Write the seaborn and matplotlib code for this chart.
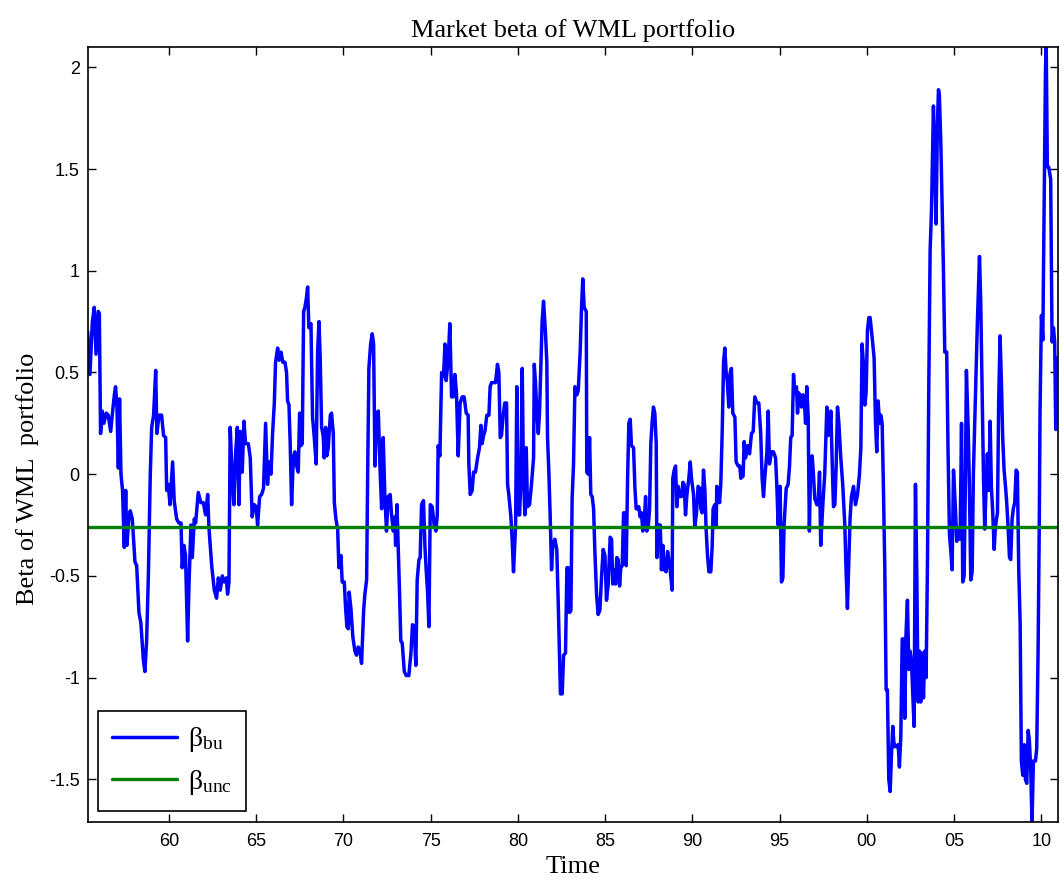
"""Market beta of the WML portfolio: rolling beta against the unconditional beta."""
import numpy as np, pandas as pd
import matplotlib
matplotlib.use("Agg")
import matplotlib.pyplot as plt
import seaborn as sns

# time in decimal years, beta, one segment per stretch of years
t_55 = [1955.34,1955.47,1955.61,1955.72,1955.82,1955.95,1956.01,1956.08,1956.18,1956.27,1956.41,1956.52,1956.66,1956.75,1956.87,1956.94,
        1957.02,1957.10,1957.17,1957.25,1957.34,1957.44,1957.52,1957.59,1957.69,1957.78,1957.90,1958.05,1958.15,1958.28,1958.39,1958.53,
        1958.62,1958.72,1958.82,1958.93,1959.01,1959.12,1959.24,1959.31,1959.43,1959.58,1959.69,1959.81,1959.87,1959.96,1960.06,1960.21,
        1960.30,1960.44,1960.57,1960.69,1960.76,1960.86,1960.95,1961.07,1961.15,1961.26,1961.34,1961.45]
b_55 = [0.70,0.49,0.75,0.82,0.59,0.80,0.79,0.20,0.31,0.25,0.30,0.29,0.21,0.29,0.39,0.43,
        0.33,0.03,0.37,0.00,-0.08,-0.36,-0.08,-0.35,-0.23,-0.18,-0.22,-0.43,-0.45,-0.68,-0.73,-0.91,
        -0.97,-0.82,-0.50,0.00,0.23,0.29,0.51,0.20,0.29,0.29,0.19,0.18,-0.08,-0.05,-0.15,0.06,
        -0.13,-0.22,-0.24,-0.24,-0.46,-0.35,-0.40,-0.82,-0.54,-0.25,-0.41,-0.22]
t_61 = [1961.53,1961.68,1961.83,1961.97,1962.10,1962.22,1962.29,1962.45,1962.60,1962.73,1962.83,1962.94,1963.06,1963.17,1963.29,1963.36,
        1963.44,1963.51,1963.63,1963.72,1963.82,1963.92,1964.01,1964.09,1964.20,1964.30,1964.39,1964.55,1964.66,1964.77,1964.89,1965.00,
        1965.08,1965.20,1965.31,1965.42,1965.54,1965.65,1965.75,1965.85,1965.94,1966.04,1966.11,1966.23,1966.32,1966.42,1966.53,1966.65]
b_61 = [-0.24,-0.09,-0.14,-0.14,-0.20,-0.10,-0.26,-0.45,-0.57,-0.61,-0.51,-0.57,-0.50,-0.53,-0.51,-0.59,
        -0.53,0.23,-0.02,-0.15,0.10,0.23,-0.15,0.21,0.01,0.26,0.15,0.15,0.08,-0.21,-0.15,-0.16,
        -0.25,-0.11,-0.10,-0.07,0.25,-0.05,0.06,0.00,0.20,0.35,0.55,0.62,0.56,0.60,0.55,0.55]
t_66 = [1966.74,1966.80,1966.88,1966.95,1967.03,1967.13,1967.22,1967.32,1967.41,1967.49,1967.56,1967.64,1967.72,1967.79,1967.87,1967.95,
        1968.02,1968.14,1968.23,1968.33,1968.44,1968.52,1968.60,1968.67,1968.75,1968.84,1968.90,1968.98,1969.05,1969.13,1969.25,1969.32,
        1969.42,1969.48,1969.57,1969.67,1969.74,1969.86,1969.93,1970.05,1970.12,1970.20,1970.28,1970.33,1970.43,1970.54,1970.66,1970.75,
        1970.85,1970.95,1971.04,1971.16,1971.23,1971.33,1971.39,1971.46,1971.56,1971.65,1971.73,1971.81,1971.90,1972.00,1972.09,1972.19,
        1972.28,1972.38,1972.47,1972.57,1972.68,1972.76,1972.86]
b_66 = [0.50,0.36,0.34,0.15,-0.15,0.08,0.11,0.04,0.01,0.30,0.14,0.15,0.80,0.82,0.86,0.92,
        0.72,0.74,0.28,0.18,0.05,0.60,0.75,0.57,0.23,0.19,0.08,0.23,0.09,0.13,0.29,0.30,
        0.20,-0.14,-0.22,-0.27,-0.46,-0.40,-0.53,-0.53,-0.65,-0.75,-0.76,-0.58,-0.66,-0.80,-0.87,-0.89,
        -0.85,-0.87,-0.93,-0.67,-0.59,-0.52,0.00,0.52,0.64,0.69,0.64,0.04,0.30,0.31,0.05,-0.17,
        0.18,-0.12,-0.28,-0.11,-0.10,-0.20,-0.28]
t_72 = [1972.95,1972.99,1973.07,1973.14,1973.22,1973.29,1973.37,1973.49,1973.60,1973.75,1973.87,1973.96,1974.06,1974.15,1974.23,1974.33,
        1974.40,1974.48,1974.59,1974.67,1974.75,1974.82,1974.90,1974.98,1975.09,1975.20,1975.30,1975.38,1975.43,1975.53,1975.63,1975.74,
        1975.82,1975.89,1976.01,1976.10,1976.20,1976.29,1976.39,1976.48,1976.58,1976.69,1976.81,1976.92,1977.04,1977.15,1977.19,1977.27,
        1977.38,1977.46,1977.57,1977.69,1977.80,1977.88,1977.95,1978.03,1978.11,1978.22,1978.34,1978.41,1978.49,1978.60]
b_72 = [-0.21,-0.35,-0.15,-0.35,-0.59,-0.82,-0.83,-0.97,-0.99,-0.99,-0.88,-0.74,-0.75,-0.94,-0.52,-0.42,
        -0.41,-0.15,-0.13,-0.35,-0.48,-0.57,-0.75,-0.15,-0.16,-0.25,-0.28,-0.20,0.14,0.09,0.50,0.48,
        0.64,0.46,0.57,0.74,0.38,0.38,0.49,0.40,0.09,0.35,0.38,0.38,0.30,0.29,0.05,-0.10,
        -0.08,0.01,0.01,0.08,0.13,0.24,0.15,0.19,0.21,0.29,0.29,0.43,0.45,0.45]
t_78 = [1978.72,1978.83,1978.91,1978.99,1979.06,1979.16,1979.25,1979.35,1979.41,1979.48,1979.60,1979.67,1979.75,1979.87,1979.94,1980.02,
        1980.10,1980.17,1980.25,1980.32,1980.40,1980.48,1980.55,1980.67,1980.78,1980.90,1980.94,1981.01,1981.09,1981.17,1981.24,1981.32,
        1981.39,1981.47,1981.58,1981.66,1981.70,1981.78,1981.85,1981.93,1982.00,1982.12,1982.23,1982.31,1982.39,1982.44,1982.54,1982.62,
        1982.73,1982.81,1982.88,1982.96,1983.04,1983.11,1983.19,1983.27,1983.38,1983.46,1983.57,1983.65,1983.72,1983.80,1983.92,1983.95,
        1984.03,1984.11,1984.18,1984.26,1984.34,1984.41]
b_78 = [0.45,0.54,0.50,0.18,0.19,0.29,0.35,0.35,-0.05,-0.10,-0.21,-0.32,-0.48,-0.25,0.43,-0.20,
        -0.20,-0.02,0.52,0.00,-0.20,0.13,-0.16,-0.15,-0.05,0.08,0.54,0.45,0.30,0.20,0.30,0.55,
        0.75,0.85,0.70,0.55,0.18,0.00,-0.20,-0.47,-0.35,-0.32,-0.37,-0.62,-0.89,-1.08,-1.08,-0.89,
        -0.88,-0.46,-0.46,-0.68,-0.67,-0.12,0.05,0.43,0.39,0.41,0.60,0.82,0.96,0.82,0.80,0.01,
        0.00,0.18,-0.10,-0.11,-0.17,-0.37]
t_84 = [1984.51,1984.60,1984.70,1984.80,1984.89,1984.99,1985.08,1985.18,1985.29,1985.37,1985.44,1985.52,1985.60,1985.67,1985.75,1985.83,
        1985.90,1985.98,1986.06,1986.13,1986.21,1986.29,1986.36,1986.44,1986.51,1986.63,1986.71,1986.78,1986.86,1986.93,1987.01,1987.09,
        1987.16,1987.24,1987.32,1987.39,1987.47,1987.55,1987.62,1987.70,1987.77,1987.85,1987.93,1987.97,1988.04,1988.16,1988.23,1988.31,
        1988.39,1988.50,1988.58,1988.65,1988.73,1988.84,1988.88,1988.96,1989.04,1989.11,1989.19,1989.26,1989.38,1989.46,1989.53,1989.61,
        1989.69,1989.80,1989.88,1989.95,1990.07,1990.14]
b_84 = [-0.59,-0.69,-0.67,-0.50,-0.37,-0.40,-0.62,-0.54,-0.31,-0.32,-0.54,-0.47,-0.54,-0.41,-0.42,-0.55,
        -0.46,-0.45,-0.19,-0.19,-0.45,-0.02,0.25,0.27,0.14,0.13,-0.07,-0.17,-0.17,-0.16,-0.21,-0.19,
        -0.28,-0.25,-0.11,-0.28,-0.26,-0.17,0.15,0.26,0.33,0.30,0.15,-0.41,-0.25,-0.25,-0.47,-0.35,
        -0.47,-0.48,-0.38,-0.42,-0.47,-0.57,-0.02,0.02,0.04,-0.16,-0.06,-0.11,-0.11,-0.04,-0.05,-0.20,
        -0.10,-0.02,0.06,-0.02,-0.10,-0.26]
t_90 = [1990.24,1990.33,1990.43,1990.49,1990.56,1990.64,1990.72,1990.79,1990.87,1990.95,1991.06,1991.14,1991.19,1991.29,1991.37,1991.40,
        1991.48,1991.56,1991.63,1991.71,1991.79,1991.86,1991.94,1992.01,1992.09,1992.17,1992.24,1992.32,1992.44,1992.51,1992.63,1992.72,
        1992.78,1992.91,1992.97,1993.05,1993.16,1993.28,1993.39,1993.49,1993.58,1993.70,1993.81,1993.92,1994.00,1994.08,1994.15,1994.27,
        1994.35,1994.42,1994.54,1994.65,1994.77,1994.84,1994.92,1995.03,1995.11,1995.19,1995.26,1995.38,1995.49,1995.57,1995.64,1995.72,
        1995.80,1995.87]
b_90 = [-0.19,-0.06,-0.07,-0.17,-0.19,0.02,-0.08,-0.27,-0.40,-0.48,-0.48,-0.35,-0.17,-0.15,-0.26,-0.06,
        -0.07,-0.14,-0.05,0.20,0.55,0.62,0.50,0.45,0.33,0.50,0.52,0.30,0.28,0.06,0.04,0.04,
        -0.02,-0.01,0.16,0.08,0.14,0.10,0.20,0.21,0.38,0.35,0.35,0.20,-0.02,-0.11,-0.02,0.10,
        0.31,0.05,0.11,0.11,0.08,-0.05,-0.25,-0.06,-0.53,-0.51,-0.25,-0.07,-0.05,0.04,0.18,0.19,
        0.49,0.40]
t_96 = [1995.97,1996.03,1996.10,1996.18,1996.26,1996.33,1996.41,1996.49,1996.56,1996.64,1996.71,1996.79,1996.87,1996.94,1997.02,1997.14,
        1997.21,1997.29,1997.36,1997.48,1997.59,1997.71,1997.78,1997.86,1997.94,1998.01,1998.09,1998.17,1998.24,1998.32,1998.40,1998.51,
        1998.62,1998.74,1998.81,1998.89,1998.97,1999.04,1999.12,1999.24,1999.35,1999.47,1999.58,1999.66,1999.73,1999.81,1999.89,1999.96,
        2000.04,2000.12,2000.19,2000.31,2000.42,2000.50,2000.57,2000.65,2000.73,2000.80,2000.88,2000.95,2001.03,2001.11,2001.18,2001.26,
        2001.34,2001.41,2001.49,2001.57]
b_96 = [0.43,0.30,0.40,0.36,0.33,0.39,0.38,0.25,0.43,0.28,-0.28,0.08,0.09,0.00,-0.12,-0.15,
        -0.15,0.01,-0.35,-0.15,0.00,0.33,0.19,0.20,0.31,0.08,-0.16,-0.15,0.03,0.33,0.25,0.08,
        -0.05,-0.25,-0.47,-0.66,-0.42,-0.22,-0.11,-0.06,-0.15,-0.10,0.00,0.13,0.64,0.54,0.34,0.40,
        0.71,0.77,0.77,0.67,0.57,0.25,0.11,0.36,0.25,0.29,0.25,-0.05,-0.45,-1.06,-1.06,-1.50,
        -1.56,-1.39,-1.24,-1.34]
t_01 = [2001.61,2001.70,2001.80,2001.87,2001.95,2002.03,2002.10,2002.18,2002.25,2002.33,2002.41,2002.48,2002.56,2002.64,2002.71,2002.79,
        2002.87,2002.94,2003.02,2003.09,2003.17,2003.25,2003.32,2003.40,2003.48,2003.55,2003.63,2003.71,2003.82,2003.90,2003.97,2004.05,
        2004.11,2004.16,2004.24,2004.32,2004.39,2004.47,2004.58,2004.66,2004.74,2004.81,2004.89,2004.97,2005.08,2005.16,2005.23,2005.35,
        2005.43,2005.50,2005.58,2005.65,2005.71,2005.81,2005.88,2005.96,2006.04,2006.11,2006.23,2006.34,2006.46,2006.53,2006.61,2006.69,
        2006.76]
b_01 = [-1.33,-1.34,-1.33,-1.44,-1.29,-0.81,-0.81,-1.20,-0.78,-0.62,-0.96,-0.87,-0.92,-1.09,-1.24,-0.05,
        -0.52,-1.12,-0.87,-1.12,-0.88,-1.10,-0.87,-1.00,-0.42,0.40,1.10,1.30,1.81,1.52,1.23,1.73,
        1.89,1.86,1.64,1.32,1.02,0.60,0.60,0.10,-0.30,-0.37,-0.47,0.02,-0.17,-0.33,-0.28,-0.32,
        0.25,-0.53,-0.50,-0.05,0.51,0.23,-0.05,-0.52,-0.48,0.00,0.40,0.75,1.07,0.85,0.40,-0.02,
        -0.27]
t_06 = [2006.84,2006.91,2006.99,2007.07,2007.14,2007.22,2007.30,2007.37,2007.49,2007.56,2007.64,2007.72,2007.79,2007.87,2007.95,2008.02,
        2008.10,2008.18,2008.25,2008.33,2008.40,2008.48,2008.56,2008.63,2008.71,2008.79,2008.86,2008.94,2009.02,2009.09,2009.17,2009.25,
        2009.32,2009.40,2009.47,2009.55,2009.67,2009.74,2009.82,2009.89,2009.93,2010.01,2010.09,2010.16,2010.24,2010.28,2010.35,2010.43,
        2010.54,2010.62,2010.70,2010.77,2010.83,2010.88,2010.95,2011.00]
b_06 = [-0.06,0.10,-0.08,0.26,-0.06,-0.19,-0.37,-0.26,-0.19,0.36,0.68,0.44,0.18,0.02,-0.06,-0.14,
        -0.26,-0.41,-0.42,-0.22,-0.17,-0.14,0.02,0.01,-0.47,-0.73,-1.41,-1.48,-1.33,-1.50,-1.52,-1.26,
        -1.31,-1.46,-1.72,-1.41,-1.41,-1.35,-0.86,-0.21,0.31,0.78,0.66,1.27,1.97,2.15,1.51,1.51,
        1.45,0.65,0.72,0.65,0.22,0.57,0.54,0.44]

BETA_UNC = -0.26
XTICKS = [1960, 1965, 1970, 1975, 1980, 1985, 1990, 1995, 2000, 2005, 2010]
XTICKLABELS = ["60", "65", "70", "75", "80", "85", "90", "95", "00", "05", "10"]
YTICKS = [-1.5, -1, -0.5, 0, 0.5, 1, 1.5, 2]
YTICKLABELS = ["-1.5", "-1", "-0.5", "0", "0.5", "1", "1.5", "2"]

segs = [(t_55, b_55), (t_61, b_61), (t_66, b_66), (t_72, b_72), (t_78, b_78), (t_84, b_84),
        (t_90, b_90), (t_96, b_96), (t_01, b_01), (t_06, b_06)]
for t, b in segs:
    assert len(t) == len(b), (t[0], len(t), len(b))
df = pd.DataFrame({"time": np.concatenate([t for t, _ in segs]),
                   "beta": np.concatenate([b for _, b in segs])})

sns.set_theme(style="ticks")
plt.rcParams.update({"font.family": ["Liberation Sans", "DejaVu Sans"], "axes.unicode_minus": False,
                     "mathtext.fontset": "custom", "mathtext.rm": "Liberation Serif",
                     "mathtext.it": "Liberation Serif:italic", "axes.linewidth": 1.2,
                     "text.color": "black", "axes.labelcolor": "black",
                     "xtick.color": "black", "ytick.color": "black"})
serif = ["Liberation Serif", "DejaVu Serif"]

W, H = 1061, 883
fig = plt.figure(figsize=(W / 100, H / 100), dpi=100)
ax = fig.add_axes([88 / W, 1 - 822 / H, (1058 - 88) / W, (822 - 47) / H])

sns.lineplot(data=df, x="time", y="beta", ax=ax, color=(0, 0, 1), lw=2.5,
             estimator=None, sort=False, label=r"β$_{\mathrm{bu}}$")
ax.axhline(BETA_UNC, color=(0, 0.5, 0), lw=2.4, label=r"β$_{\mathrm{unc}}$")

ax.set_xlim(1955.36, 2010.96)
ax.set_ylim(-1.71, 2.10)
ax.set_xticks(XTICKS, XTICKLABELS)
ax.set_yticks(YTICKS, YTICKLABELS)
ax.tick_params(direction="in", length=6, width=1, labelsize=13, top=True, right=True, colors="black")
ax.tick_params(axis="x", pad=8)
ax.tick_params(axis="y", pad=6)
for s in ax.spines.values():
    s.set_color("black")

ax.set_title("Market beta of WML portfolio", family=serif, fontsize=19, pad=7)
ax.set_xlabel("Time", family=serif, fontsize=19, labelpad=4)
ax.set_ylabel("Beta of WML  portfolio", family=serif, fontsize=19)
ax.yaxis.set_label_coords(-0.050, 0.443)

leg = ax.legend(loc="lower left", bbox_to_anchor=(10 / 970, 11 / 775), borderaxespad=0,
                prop={"family": serif, "size": 20}, frameon=True, fancybox=False,
                edgecolor="black", framealpha=1, handlelength=2.35, handletextpad=0.4,
                borderpad=0.5, labelspacing=0.5)
leg.get_frame().set_linewidth(1.2)

fig.savefig("out.png", dpi=100, facecolor="white")
